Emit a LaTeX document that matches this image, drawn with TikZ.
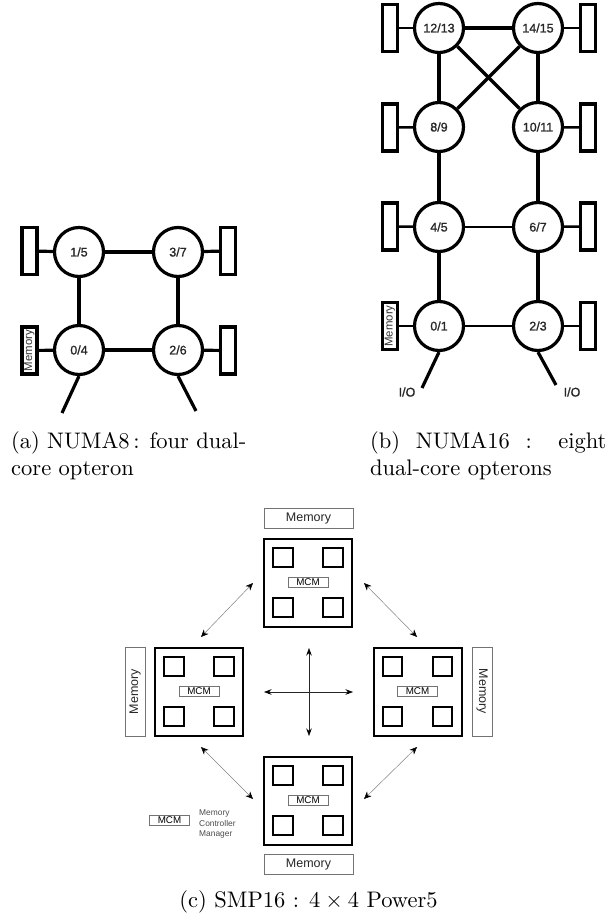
\documentclass[tikz,border=0pt]{standalone}
\usepackage{fontspec}
\newfontfamily\hv{Liberation Sans}
\newfontfamily\hvb[FakeBold=1.2]{Liberation Sans}
\usetikzlibrary{arrows.meta}
\definecolor{thingray}{gray}{0.45}
\tikzset{
  cpu/.style={circle,draw=black,line width=3.2pt,minimum size=49pt,inner sep=0pt,font=\hvb\fontsize{12.5}{13}\selectfont,text=black!85},
  mem/.style={rectangle,draw=black,line width=3.2pt,minimum width=15pt,minimum height=47pt,inner sep=0pt},
  memt/.style={rectangle,draw=black,line width=3.2pt,minimum width=47pt,minimum height=15pt,inner sep=0pt,rotate=90,font=\hv\fontsize{11.4}{12}\selectfont,text=black!80},
  link/.style={line width=3.2pt,draw=black},
  thinlink/.style={line width=2.5pt,draw=black},
  iotext/.style={font=\hvb\fontsize{12.5}{13}\selectfont,inner sep=0pt,text=black!85},
  block/.style={rectangle,draw=black,line width=2pt,minimum size=88pt,inner sep=0pt},
  core/.style={rectangle,draw=black,line width=2pt,minimum size=19.5pt,inner sep=0pt},
  mcm/.style={rectangle,draw=thingray,line width=0.7pt,minimum width=40pt,minimum height=10pt,inner sep=0pt,font=\hv\fontsize{9.8}{10}\selectfont},
  smem/.style={rectangle,draw=thingray,line width=0.7pt,minimum width=89pt,minimum height=20pt,inner sep=0pt,font=\hv\fontsize{12.5}{13}\selectfont,text=black!85},
  diag/.style={{Stealth[length=7.5pt,width=6.5pt,color=black]}-{Stealth[length=7.5pt,width=6.5pt,color=black]},line width=0.5pt,draw=black!50},
  crossarrow/.style={{Stealth[length=7.5pt,width=5.5pt,color=black]}-{Stealth[length=7.5pt,width=5.5pt,color=black]},line width=0.6pt,draw=black!85},
  captext/.style={anchor=base west,inner sep=0pt},
  legendtext/.style={anchor=west,inner sep=0pt,font=\hv\fontsize{8.4}{9}\selectfont,text=black!70},
}
\begin{document}
\begin{tikzpicture}[x=1pt,y=-1pt]
\useasboundingbox (0,0) rectangle (608,917);
% (a)
\node[cpu] (a15) at (79,252) {1/5};
\node[cpu] (a37) at (178,252) {3/7};
\node[cpu] (a04) at (79,350) {0/4};
\node[cpu] (a26) at (178,350) {2/6};
\node[mem] (am15) at (29.5,251) {};
\node[mem] (am37) at (228,251) {};
\node[memt] (am04) at (29.5,350.5) {Memory};
\node[mem] (am26) at (228,350.5) {};
\draw[link] (a15)--(a37); \draw[link] (a04)--(a26);
\draw[link] (a15)--(a04); \draw[link] (a37)--(a26);
\draw[link] (am15)--(a15); \draw[link] (a37)--(am37);
\draw[link] (am04)--(a04); \draw[link] (a26)--(am26);
\coordinate (aio1) at (62,413); \coordinate (aio2) at (196,411);
\draw[link] (a04.south)--(aio1); \draw[link] (a26.south)--(aio2);
% (b)
\node[cpu] (b12) at (439,28) {12/13};
\node[cpu] (b14) at (538,28) {14/15};
\node[cpu] (b8) at (439,127) {8/9};
\node[cpu] (b10) at (538,127) {10/11};
\node[cpu] (b4) at (439,227) {4/5};
\node[cpu] (b6) at (538,227) {6/7};
\node[cpu] (b0) at (439,326) {0/1};
\node[cpu] (b2) at (538,326) {2/3};
\node[mem] (bl12) at (390,28) {};
\node[mem] (bl8) at (390,127.5) {};
\node[mem] (bl4) at (390,226.5) {};
\node[memt] (bl0) at (390,326) {Memory};
\node[mem] (br14) at (588,28) {};
\node[mem] (br10) at (588,127.5) {};
\node[mem] (br6) at (588,226.5) {};
\node[mem] (br2) at (588,326) {};
\draw[link] (b12)--(b14);
\draw[thinlink] (b4)--(b6); \draw[thinlink] (b0)--(b2);
\draw[link] (b12)--(b8); \draw[link] (b14)--(b10);
\draw[link] (b8)--(b4); \draw[link] (b10)--(b6);
\draw[link] (b4)--(b0); \draw[link] (b6)--(b2);
\draw[link] (b12)--(b10); \draw[link] (b14)--(b8);
\foreach \p/\q in {bl12/b12,bl8/b8,bl4/b4,bl0/b0,b14/br14,b10/br10,b6/br6,b2/br2}{\draw[thinlink] (\p)--(\q);}
\coordinate (bio1) at (422,388); \coordinate (bio2) at (556,385);
\draw[link] (b0.south)--(bio1); \draw[link] (b2.south)--(bio2);
\node[iotext] (iol) at (407,392) {I/O};
\node[iotext] (ior) at (572,392) {I/O};
% captions
\node[captext] (capa1) at (11,448) {\scalebox{2.25}{\makebox[104.5pt][s]{(a) NUMA8\,: four dual-}}};
\node[captext] (capa2) at (11,475) {\scalebox{2.25}{core opteron}};
\node[captext] (capb1) at (370,448) {\scalebox{2.25}{\makebox[105pt][s]{(b) NUMA16 : eight}}};
\node[captext] (capb2) at (370,475) {\scalebox{2.25}{dual-core opterons}};
\node[anchor=base,inner sep=0pt] (capc) at (308.5,907) {\scalebox{2.25}{(c) SMP16 : $4\times4$ Power5}};
% (c)
\foreach \n/\x/\y in {T/308/582.5,L/199/691.5,R/417.5/691.5,B/308/800.5}{
  \node[block] (\n) at (\x,\y) {};
  \node[core] (\n a) at (\x-25,\y-25) {};
  \node[core] (\n b) at (\x+25,\y-25) {};
  \node[core] (\n c) at (\x-25,\y+25) {};
  \node[core] (\n d) at (\x+25,\y+25) {};
  \node[mcm] (\n m) at (\x,\y) {MCM};
}
\node[smem] (mT) at (308.5,518) {Memory};
\node[smem] (mB) at (308.5,864) {Memory};
\node[smem,rotate=90] (mL) at (135,691.5) {Memory};
\node[smem,rotate=-90] (mR) at (482,691.5) {Memory};
\coordinate (d1a) at (253,583); \coordinate (d1b) at (201,637);
\coordinate (d2a) at (364,583); \coordinate (d2b) at (417,637);
\coordinate (d3a) at (201,747); \coordinate (d3b) at (253,799);
\coordinate (d4a) at (417,747); \coordinate (d4b) at (364,799);
\draw[diag] (d1a)--(d1b); \draw[diag] (d2a)--(d2b);
\draw[diag] (d3a)--(d3b); \draw[diag] (d4a)--(d4b);
\coordinate (vt) at (309,648); \coordinate (vb) at (309,736);
\coordinate (hl) at (264,692); \coordinate (hr) at (353,692);
\draw[crossarrow] (vt)--(vb); \draw[crossarrow] (hl)--(hr);
\node[mcm] (legm) at (169.5,820.5) {MCM};
\node[legendtext] (leg1) at (199,813) {Memory};
\node[legendtext] (leg2) at (199,823.5) {Controller};
\node[legendtext] (leg3) at (199,834) {Manager};
\end{tikzpicture}
\end{document}
